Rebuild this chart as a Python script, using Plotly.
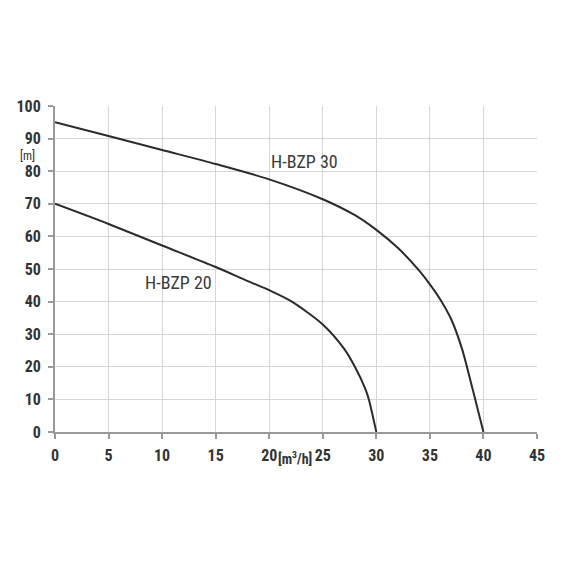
import plotly.graph_objects as go

# H-BZP 30 curve
q30 = [0, 5, 10, 15, 20, 25, 28, 30, 32, 34, 35, 36, 37, 38, 39, 40]
h30 = [95, 90.8, 86.5, 82.2, 77.5, 71.4, 66.5, 62, 56.5, 49.5, 45.3, 40.5, 34.5, 25.5, 13, 0]
# H-BZP 20 curve
q20 = [0, 5, 10, 15, 18, 20, 22, 25, 27, 28, 29, 29.3, 30]
h20 = [70, 63.8, 57.2, 50.6, 46.3, 43.5, 40.2, 33, 25.5, 20, 13, 10, 0]

x_ticks = [0, 5, 10, 15, 20, 25, 30, 35, 40, 45]
y_ticks = [0, 10, 20, 30, 40, 50, 60, 70, 80, 90, 100]

FONT = "Liberation Sans Narrow, Roboto Condensed, Arial Narrow, Liberation Sans, sans-serif"
LINE = "#2b2b2b"

fig = go.Figure()
fig.add_trace(go.Scatter(x=q30, y=h30, mode="lines", line=dict(color=LINE, width=2, shape="spline", smoothing=0.8), showlegend=False))
fig.add_trace(go.Scatter(x=q20, y=h20, mode="lines", line=dict(color=LINE, width=2, shape="spline", smoothing=0.8), showlegend=False))

fig.add_annotation(x=23.3, y=83.1, text="H-BZP 30", showarrow=False,
                   font=dict(family=FONT, size=18, color="#3a3a3a"))
fig.add_annotation(x=11.5, y=46, text="H-BZP 20", showarrow=False,
                   font=dict(family=FONT, size=18, color="#3a3a3a"))
fig.add_annotation(xref="paper", yref="y", x=-0.039, y=84.8, text="[m]", showarrow=False,
                   xanchor="right", borderpad=0, font=dict(family=FONT, size=12, color="#333"))
fig.add_annotation(xref="x", yref="paper", x=22.4, y=-0.045, text="[m<sup>3</sup>/h]", showarrow=False,
                   yanchor="top", font=dict(family=FONT, size=14, color="#333", weight="bold"))

axis_common = dict(
    showgrid=True, gridcolor="#d6d6d6", gridwidth=1.2,
    showline=True, linecolor="#9a9a9a", linewidth=2,
    ticks="outside", ticklen=5, tickcolor="#9a9a9a", tickwidth=1.5,
    zeroline=False, fixedrange=True, automargin=False,
    tickfont=dict(family=FONT, size=16, color="#333", weight="bold"),
)
fig.update_xaxes(range=[0, 45], tickvals=x_ticks, ticktext=[str(v) for v in x_ticks],
                 ticklabelstandoff=3, **axis_common)
fig.update_yaxes(range=[0, 100], tickvals=y_ticks, ticktext=[str(v) for v in y_ticks],
                 ticklabelstandoff=4, **axis_common)

fig.update_layout(
    width=570, height=570,
    margin=dict(l=47, r=41, t=98, b=146),
    plot_bgcolor="white", paper_bgcolor="white",
)

fig.write_html("out.html")
